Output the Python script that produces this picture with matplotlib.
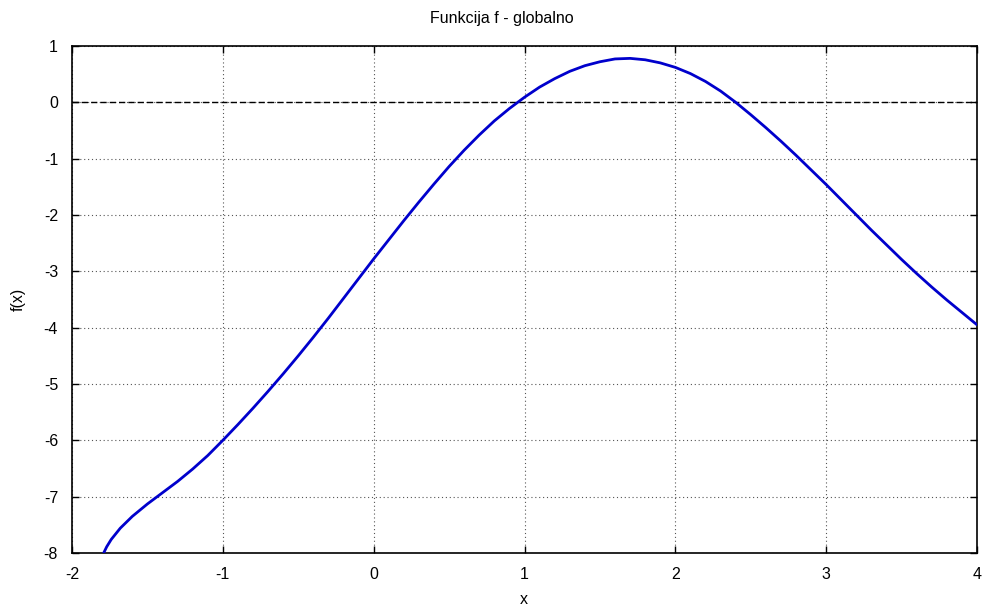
import matplotlib
matplotlib.use("Agg")
import matplotlib.pyplot as plt

plt.rcParams.update({
    "font.family": ["Liberation Sans", "DejaVu Sans"],
    "font.size": 11.5,
    "axes.unicode_minus": False,
})

# values
x_vals = [-1.79, -1.77, -1.74, -1.68, -1.6, -1.5, -1.4, -1.3, -1.2, -1.1,
          -1.0, -0.9, -0.8, -0.7, -0.6, -0.5, -0.4, -0.3, -0.2, -0.1,
          0.0, 0.1, 0.2, 0.3, 0.4, 0.5, 0.6, 0.7, 0.8, 0.9,
          1.0, 1.1, 1.2, 1.3, 1.4, 1.5, 1.6, 1.7, 1.8, 1.9,
          2.0, 2.1, 2.2, 2.3, 2.4, 2.5, 2.6, 2.7, 2.8, 2.9,
          3.0, 3.1, 3.2, 3.3, 3.4, 3.5, 3.6, 3.7, 3.8, 3.9, 4.0]
y_vals = [-8.0, -7.89, -7.76, -7.56, -7.35, -7.13, -6.93, -6.73, -6.51, -6.27,
          -6.0, -5.72, -5.43, -5.13, -4.82, -4.5, -4.17, -3.83, -3.48, -3.13,
          -2.78, -2.44, -2.10, -1.77, -1.45, -1.14, -0.85, -0.58, -0.33, -0.11,
          0.09, 0.27, 0.42, 0.55, 0.65, 0.72, 0.77, 0.78, 0.755, 0.70,
          0.62, 0.51, 0.37, 0.2, 0.0, -0.22, -0.45, -0.69, -0.94, -1.2,
          -1.46, -1.73, -2.0, -2.27, -2.53, -2.79, -3.04, -3.28, -3.51, -3.73, -3.95]

x_ticks = [-2, -1, 0, 1, 2, 3, 4]
y_ticks = [1, 0, -1, -2, -3, -4, -5, -6, -7, -8]

fig = plt.figure(figsize=(9.85, 6.09), dpi=100)
ax = fig.add_axes([0.0731, 0.092, 0.9188, 0.8325])

ax.plot(x_vals, y_vals, color="#0000cc", lw=2, zorder=3,
        solid_joinstyle="round", solid_capstyle="round")
ax.axhline(0, color="black", lw=1, ls=(0, (4.5, 2.2)), zorder=2)

ax.set_xlim(-2, 4)
ax.set_ylim(-8, 1)
ax.set_xticks(x_ticks)
ax.set_yticks(y_ticks)
ax.grid(True, color="#555555", ls=(0, (1, 2.5)), lw=0.8)
ax.tick_params(direction="in", length=5, width=1, top=True, right=True)
ax.tick_params(axis="x", pad=10)
ax.tick_params(axis="y", pad=10)
for s in ax.spines.values():
    s.set_linewidth(1.2)

fig.text(502 / 985, 1 - 18 / 609, "Funkcija f - globalno", ha="center", va="center")
fig.text(524 / 985, 1 - 600 / 609, "x", ha="center", va="center")
fig.text(18 / 985, 1 - 299 / 609, "f(x)", ha="center", va="center", rotation=90)

fig.savefig("out.png", dpi=100)
